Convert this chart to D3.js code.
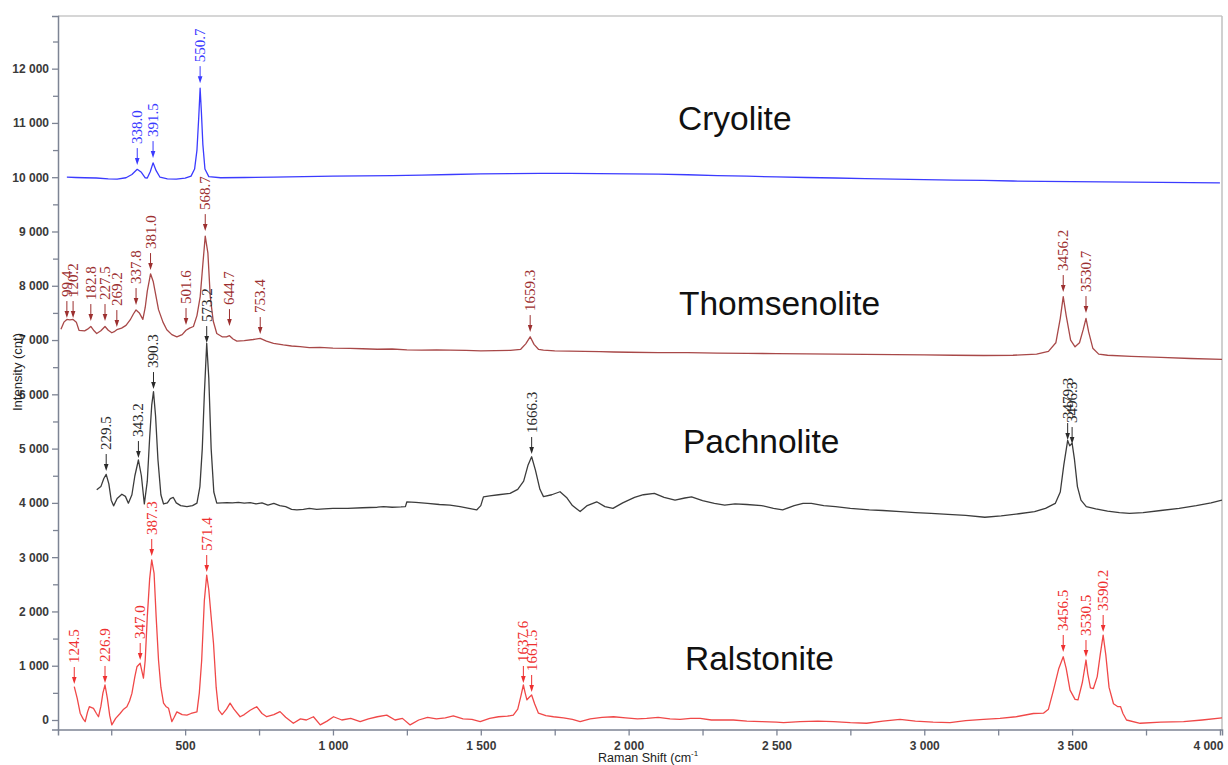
<!DOCTYPE html>
<html><head><meta charset="utf-8">
<script src="https://cdn.jsdelivr.net/npm/d3@7"></script>
<style>
html,body{margin:0;padding:0;background:#fff;}
svg{display:block;}
</style></head>
<body>
<svg id="chart" width="1228" height="765"></svg>
<script>
// ---------- DATA ----------
const xTickValues = [500, 1000, 1500, 2000, 2500, 3000, 3500, 4000];
const xTickLabels = ["500", "1 000", "1 500", "2 000", "2 500", "3 000", "3 500", "4 000"];
const xMinorValues = [250, 750, 1250, 1750, 2250, 2750, 3250, 3750];
const yTickValues = [0, 1000, 2000, 3000, 4000, 5000, 6000, 7000, 8000, 9000, 10000, 11000, 12000];
const yTickLabels = ["0", "1 000", "2 000", "3 000", "4 000", "5 000", "6 000", "7 000", "8 000", "9 000", "10 000", "11 000", "12 000"];
const yMinorValues = [500, 1500, 2500, 3500, 4500, 5500, 6500, 7500, 8500, 9500, 10500, 11500, 12500];

const seriesNames = ["Cryolite", "Thomsenolite", "Pachnolite", "Ralstonite"];

const cryolite = [[100,10000],[130,9995],[160,9990],[200,9985],[240,9970],[270,9965],[300,9990],[320,10050],[338,10145],[352,10090],[365,9990],[372,9985],[382,10100],[391.5,10265],[402,10120],[415,10000],[440,9970],[470,9965],[500,9985],[520,10020],[532,10150],[540,10500],[546,11100],[550.7,11640],[555,11200],[560,10600],[567,10150],[580,10010],[620,9990],[700,9995],[800,10000],[900,10010],[1000,10020],[1100,10025],[1200,10030],[1300,10040],[1400,10050],[1500,10060],[1600,10065],[1700,10070],[1800,10070],[1900,10065],[2000,10060],[2100,10055],[2200,10045],[2300,10030],[2400,10020],[2500,10005],[2600,9995],[2700,9985],[2800,9975],[2900,9965],[3000,9955],[3100,9945],[3200,9940],[3300,9930],[3400,9925],[3500,9920],[3600,9915],[3700,9910],[3800,9905],[3900,9900],[4000,9895]];

const thomsenolite = [[80,7200],[90,7330],[100,7380],[110,7370],[121,7380],[132,7330],[141,7180],[160,7170],[170,7200],[181,7250],[192,7170],[201,7120],[215,7170],[229,7250],[240,7180],[252,7135],[262,7160],[269,7190],[285,7220],[300,7270],[314,7370],[325,7480],[334,7555],[345,7500],[357,7380],[365,7600],[372,7900],[383,8220],[392,8080],[410,7560],[425,7330],[438,7190],[455,7100],[472,7060],[490,7100],[503,7180],[515,7220],[528,7250],[540,7450],[551,7800],[560,8400],[568,8915],[577,8600],[585,7800],[595,7350],[607,7120],[625,7060],[640,7060],[650,7080],[662,7020],[675,6980],[700,6990],[730,7010],[754,7030],[775,6980],[799,6940],[832,6910],[860,6890],[889,6880],[920,6860],[956,6865],[1000,6850],[1058,6847],[1100,6840],[1150,6830],[1200,6835],[1250,6820],[1300,6815],[1350,6820],[1396,6815],[1450,6810],[1500,6800],[1550,6805],[1600,6810],[1635,6830],[1652,6930],[1667,7060],[1680,6920],[1695,6830],[1712,6815],[1750,6800],[1800,6795],[1850,6790],[1903,6785],[1950,6780],[2000,6775],[2100,6770],[2200,6770],[2300,6760],[2400,6755],[2500,6750],[2600,6745],[2700,6740],[2800,6735],[2900,6730],[3000,6725],[3100,6720],[3200,6715],[3300,6720],[3380,6740],[3420,6790],[3445,6950],[3460,7400],[3470,7800],[3480,7450],[3495,7000],[3510,6875],[3525,6950],[3538,7200],[3547,7400],[3556,7150],[3570,6850],[3590,6740],[3620,6720],[3700,6700],[3800,6680],[3900,6660],[4007,6645]];

const pachnolite = [[201,4240],[215,4300],[225,4450],[233,4525],[242,4350],[250,4050],[258,3945],[270,4080],[286,4160],[298,4120],[308,3995],[320,4150],[330,4500],[342,4790],[352,4500],[362,3980],[372,4400],[380,5200],[387,5800],[393,6050],[400,5600],[408,4800],[418,4150],[427,3980],[440,4000],[450,4080],[460,4100],[470,4000],[485,3950],[506,3930],[525,3950],[540,3995],[550,4300],[558,5000],[565,6000],[573,6940],[580,6300],[588,5000],[597,4200],[607,3995],[625,4000],[641,4005],[660,4000],[680,4010],[700,3995],[720,4005],[740,3980],[760,4000],[780,3960],[800,3990],[820,3950],[840,3930],[860,3880],[878,3870],[900,3880],[920,3900],[945,3880],[970,3890],[1000,3900],[1050,3900],[1100,3910],[1150,3920],[1171,3930],[1200,3920],[1230,3925],[1245,3930],[1250,4020],[1280,4010],[1320,3990],[1360,3970],[1396,3960],[1430,3930],[1460,3900],[1486,3870],[1500,3950],[1509,4110],[1530,4130],[1560,4150],[1599,4175],[1625,4250],[1645,4400],[1660,4700],[1672,4850],[1685,4600],[1700,4250],[1712,4115],[1740,4150],[1768,4205],[1790,4100],[1810,3950],[1836,3840],[1860,3950],[1892,4020],[1920,3930],[1947,3900],[1980,4000],[2020,4100],[2050,4150],[2087,4175],[2120,4100],[2157,4050],[2190,4090],[2213,4110],[2250,4040],[2290,3990],[2325,3960],[2360,3980],[2400,3970],[2450,3950],[2490,3900],[2521,3870],[2560,3950],[2590,3990],[2618,3990],[2660,3950],[2700,3930],[2750,3900],[2814,3870],[2860,3860],[2920,3840],[2970,3820],[3023,3805],[3080,3790],[3140,3770],[3205,3735],[3260,3760],[3320,3800],[3373,3840],[3410,3900],[3443,3990],[3460,4200],[3472,4700],[3485,5150],[3492,5050],[3500,5100],[3508,4800],[3518,4300],[3530,4050],[3548,3930],[3580,3890],[3620,3850],[3660,3820],[3694,3805],[3740,3820],[3800,3860],[3862,3900],[3920,3950],[3970,4000],[4007,4050]];

const ralstonite = [[125,615],[135,400],[145,125],[155,20],[162,-30],[170,150],[176,245],[190,215],[200,120],[207,60],[215,250],[222,500],[229,645],[237,400],[245,80],[252,-90],[265,30],[280,120],[292,200],[303,245],[312,350],[320,490],[330,800],[337,980],[348,1045],[359,770],[365,1100],[372,1900],[380,2600],[387,2950],[395,2700],[402,1900],[410,1100],[418,600],[427,310],[435,250],[444,215],[455,-30],[463,50],[472,150],[490,100],[506,90],[520,120],[540,150],[548,500],[556,1100],[565,2200],[573,2670],[580,2400],[588,1900],[596,1410],[605,600],[613,185],[625,100],[640,200],[652,310],[665,200],[686,60],[700,100],[720,180],[742,245],[760,120],[776,60],[800,100],[821,155],[840,50],[866,-60],[890,20],[910,0],[934,60],[957,-90],[980,-20],[1002,60],[1030,0],[1060,30],[1092,-30],[1120,20],[1150,60],[1182,90],[1210,0],[1235,30],[1261,-90],[1290,0],[1320,50],[1350,20],[1380,40],[1407,75],[1440,20],[1470,10],[1498,-30],[1530,30],[1560,60],[1590,70],[1610,90],[1625,200],[1636,450],[1644,645],[1650,500],[1656,370],[1664,420],[1672,460],[1682,300],[1695,125],[1720,80],[1746,60],[1780,40],[1810,10],[1836,-30],[1870,20],[1910,50],[1949,60],[1990,40],[2030,20],[2061,30],[2100,50],[2140,20],[2174,10],[2210,30],[2242,30],[2280,0],[2332,0],[2354,0],[2400,-20],[2450,-30],[2500,-40],[2524,-50],[2580,-30],[2640,-20],[2693,-30],[2750,-50],[2805,-60],[2860,-20],[2918,10],[2970,-20],[3030,-40],[3087,-50],[3140,-10],[3200,10],[3256,30],[3310,60],[3369,120],[3403,125],[3420,200],[3437,550],[3455,950],[3470,1165],[3480,950],[3493,550],[3510,380],[3520,370],[3535,700],[3547,1105],[3553,850],[3562,590],[3572,580],[3585,800],[3595,1200],[3605,1565],[3614,1200],[3625,600],[3640,300],[3655,245],[3664,245],[3672,120],[3684,0],[3730,-60],[3800,-40],[3877,-30],[3940,0],[4007,40]];

// peak annotations: [label, x position, arrow tip intensity]
const cryoliteLabels = [["338.0",338,10223],["391.5",391.5,10352],["550.7",550.7,11733]];
const thomsenoliteLabels = [["99.4",100,7405],["120.2",121,7405],["182.8",181,7350],["227.5",229,7350],["269.2",269,7239],["337.8",334,7644],["381.0",383,8289],["501.6",503,7276],["568.7",568,9007],["644.7",650,7257],["753.4",754,7110],["1659.3",1667,7147],["3456.2",3470,7884],["3530.7",3547,7497]];
const pachnoliteLabels = [["229.5",233,4587],["343.2",342,4826],["390.3",393,6097],["573.2",573,6944],["1666.3",1672,4900],["3479.3",3485,5158],["3496.3",3500,5084]];
const ralstoniteLabels = [["124.5",125,663],["226.9",229,682],["347.0",348,1105],["387.3",387,3021],["571.4",573,2726],["1637.6",1644,682],["1661.5",1672,516],["3456.5",3470,1253],["3530.5",3547,1160],["3590.2",3605,1621]];

// ---------- CHART ----------
const svg = d3.select("#chart");
const mLeft = 58, mRight = 1222, mTop = 16, mBottom = 729.5;
const x = d3.scaleLinear().domain([70, 4007]).range([mLeft, mRight]);
const y = d3.scaleLinear().domain([-175, 12970]).range([mBottom, mTop]);

const styles = [
  {data: cryolite, labels: cryoliteLabels, line: "#3b3bff", text: "#3a3aff", name: seriesNames[0], nx: 678, ny: 130},
  {data: thomsenolite, labels: thomsenoliteLabels, line: "#a84848", text: "#9c2f2f", name: seriesNames[1], nx: 679, ny: 315},
  {data: pachnolite, labels: pachnoliteLabels, line: "#3c3c3c", text: "#2a2a2a", name: seriesNames[2], nx: 683, ny: 453},
  {data: ralstonite, labels: ralstoniteLabels, line: "#f04848", text: "#ee3030", name: seriesNames[3], nx: 685, ny: 670}
];

svg.append("defs").append("clipPath").attr("id", "clip")
  .append("rect").attr("x", mLeft).attr("y", mTop).attr("width", mRight - mLeft).attr("height", mBottom - mTop);

// frame
svg.append("line").attr("x1", mLeft).attr("x2", mRight).attr("y1", mTop).attr("y2", mTop).attr("stroke", "#c8c8c8").attr("stroke-width", 1.5);
svg.append("line").attr("x1", mRight).attr("x2", mRight).attr("y1", mTop).attr("y2", mBottom).attr("stroke", "#c0c0c0").attr("stroke-width", 1.5);

// axes
const axisColor = "#7d8494";
const yAxis = svg.append("g").attr("transform", `translate(${mLeft},0)`)
  .call(d3.axisLeft(y).tickValues(yTickValues).tickSize(6).tickPadding(3)
    .tickFormat((d, i) => yTickLabels[i]));
const yMinor = svg.append("g").attr("transform", `translate(${mLeft},0)`)
  .call(d3.axisLeft(y).tickValues(yMinorValues).tickSize(5).tickFormat(""));
const xAxis = svg.append("g").attr("transform", `translate(0,${mBottom})`)
  .call(d3.axisBottom(x).tickValues(xTickValues).tickSize(6).tickPadding(6)
    .tickFormat((d, i) => xTickLabels[i]));
const xMinor = svg.append("g").attr("transform", `translate(0,${mBottom})`)
  .call(d3.axisBottom(x).tickValues(xMinorValues).tickSize(6).tickFormat(""));
[yAxis, yMinor, xAxis, xMinor].forEach(g => {
  g.select(".domain").attr("stroke", axisColor).attr("stroke-width", 1.5);
  g.selectAll(".tick line").attr("stroke", axisColor).attr("stroke-width", 1.3);
  g.selectAll(".tick text").attr("fill", "#3a3a3a").attr("font-family", "Liberation Sans, Arial, sans-serif")
    .attr("font-size", 12).attr("font-weight", "bold");
});
yMinor.select(".domain").remove();
xMinor.select(".domain").remove();
// last x label sits inside the frame edge, as in the reference
xAxis.selectAll(".tick text").filter(d => d === 4000).attr("text-anchor", "end").attr("x", 3);

// axis titles
svg.append("text").attr("transform", "translate(22,372) rotate(-90)")
  .attr("text-anchor", "middle").attr("font-family", "Liberation Sans, Arial, sans-serif")
  .attr("font-size", 13).attr("fill", "#222").text("Intensity (cnt)");
const xt = svg.append("text").attr("x", 598).attr("y", 762)
  .attr("font-family", "Liberation Sans, Arial, sans-serif").attr("font-size", 12.5).attr("fill", "#222");
xt.append("tspan").text("Raman Shift (cm");
xt.append("tspan").attr("dx", 0).attr("dy", -6).attr("font-size", 8).text("-1");

// series
const line = d3.line().x(d => x(d[0])).y(d => y(d[1]));
const plot = svg.append("g").attr("clip-path", "url(#clip)");
styles.forEach(s => {
  plot.append("path").datum(s.data).attr("d", line)
    .attr("fill", "none").attr("stroke", s.line).attr("stroke-width", 1.3).attr("stroke-linejoin", "round");
});

// annotations
styles.forEach(s => {
  const g = svg.append("g");
  s.labels.forEach(([lab, xv, tv]) => {
    const px = x(xv), ty = y(tv);
    g.append("line").attr("x1", px).attr("x2", px).attr("y1", ty - 17).attr("y2", ty - 3)
      .attr("stroke", s.text).attr("stroke-width", 1);
    g.append("path").attr("d", `M${px - 2.3},${ty - 7}L${px + 2.3},${ty - 7}L${px},${ty}Z`).attr("fill", s.text);
    g.append("text").attr("transform", `translate(${px},${ty - 21}) rotate(-90)`)
      .attr("dominant-baseline", "central").attr("font-family", "Liberation Serif, Times New Roman, serif")
      .attr("font-size", 15).attr("fill", s.text).text(lab);
  });
  svg.append("text").attr("x", s.nx).attr("y", s.ny)
    .attr("font-family", "Liberation Sans, Arial, sans-serif").attr("font-size", 33.5)
    .attr("fill", "#111").text(s.name);
});
</script>
</body></html>
